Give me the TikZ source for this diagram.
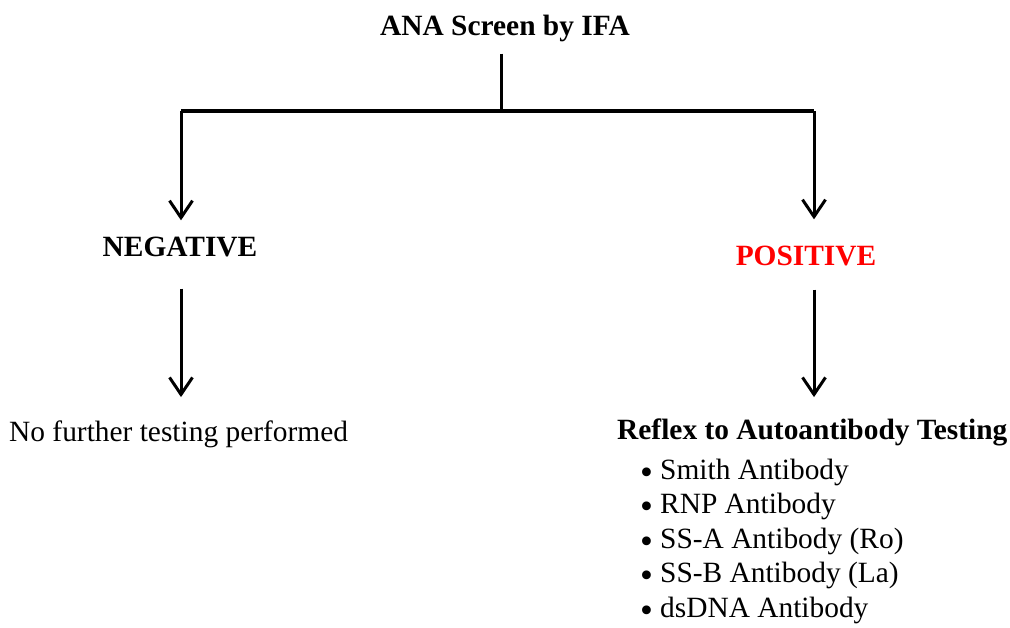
\documentclass[tikz,border=0pt]{standalone}
\usepackage{fontspec}
\setmainfont{Liberation Serif}
\usetikzlibrary{arrows.meta}

\tikzset{
  txt/.style={inner sep=0pt, font=\fontsize{29.4}{35}\selectfont},
  head/.style={txt, font=\fontsize{29.4}{35}\selectfont\bfseries},
  stem/.style={line width=3pt},
  flow/.style={line width=3pt, -{Straight Barb[length=17pt, width=23pt]}}
}
\newcommand{\itemdot}{\makebox[20pt][l]{\raisebox{-0.18em}{\scalebox{1.25}{\textbullet}}}}

\begin{document}
\begin{tikzpicture}[x=1pt, y=-1pt]
\useasboundingbox (0,0) rectangle (1010,627);
\node [head, anchor=base] (title) at (505,35) {ANA Screen by IFA};
\coordinate (split) at (501,111);
\coordinate (lcorner) at (181,111);
\coordinate (rcorner) at (814,111);
\node [head, anchor=base] (neg) at (180,256) {NEGATIVE};
\node [head, anchor=base, text=red] (pos) at (806,265) {POSITIVE};
\node [txt, anchor=base west] (none) at (9,441) {No further testing performed};
\node [head, anchor=base west] (reflex) at (617,439) {Reflex to Autoantibody Testing};
\node [txt, anchor=base west] (smith) at (640,479) {\itemdot Smith Antibody};
\node [txt, anchor=base west] (rnp) at (640,513.5) {\itemdot RNP Antibody};
\node [txt, anchor=base west] (ssa) at (640,548) {\itemdot SS-A Antibody (Ro)};
\node [txt, anchor=base west] (ssb) at (640,582.5) {\itemdot SS-B Antibody (La)};
\node [txt, anchor=base west] (dsdna) at (640,617) {\itemdot dsDNA Antibody};

\draw [stem, shorten <=12pt] (title.south -| split) -- (split) ;
\draw [line width=4pt] (lcorner) -- (rcorner) ;
\draw [flow, shorten >=16pt] (lcorner) -- (lcorner |- neg.north) ;
\draw [flow, shorten >=26pt] (rcorner) -- (rcorner |- pos.north) ;
\draw [flow, shorten <=32pt, shorten >=23pt] (lcorner |- neg.south) -- (lcorner |- none.north) ;
\draw [flow, shorten <=24pt, shorten >=21pt] (rcorner |- pos.south) -- (rcorner |- reflex.north) ;

\end{tikzpicture}
\end{document}
